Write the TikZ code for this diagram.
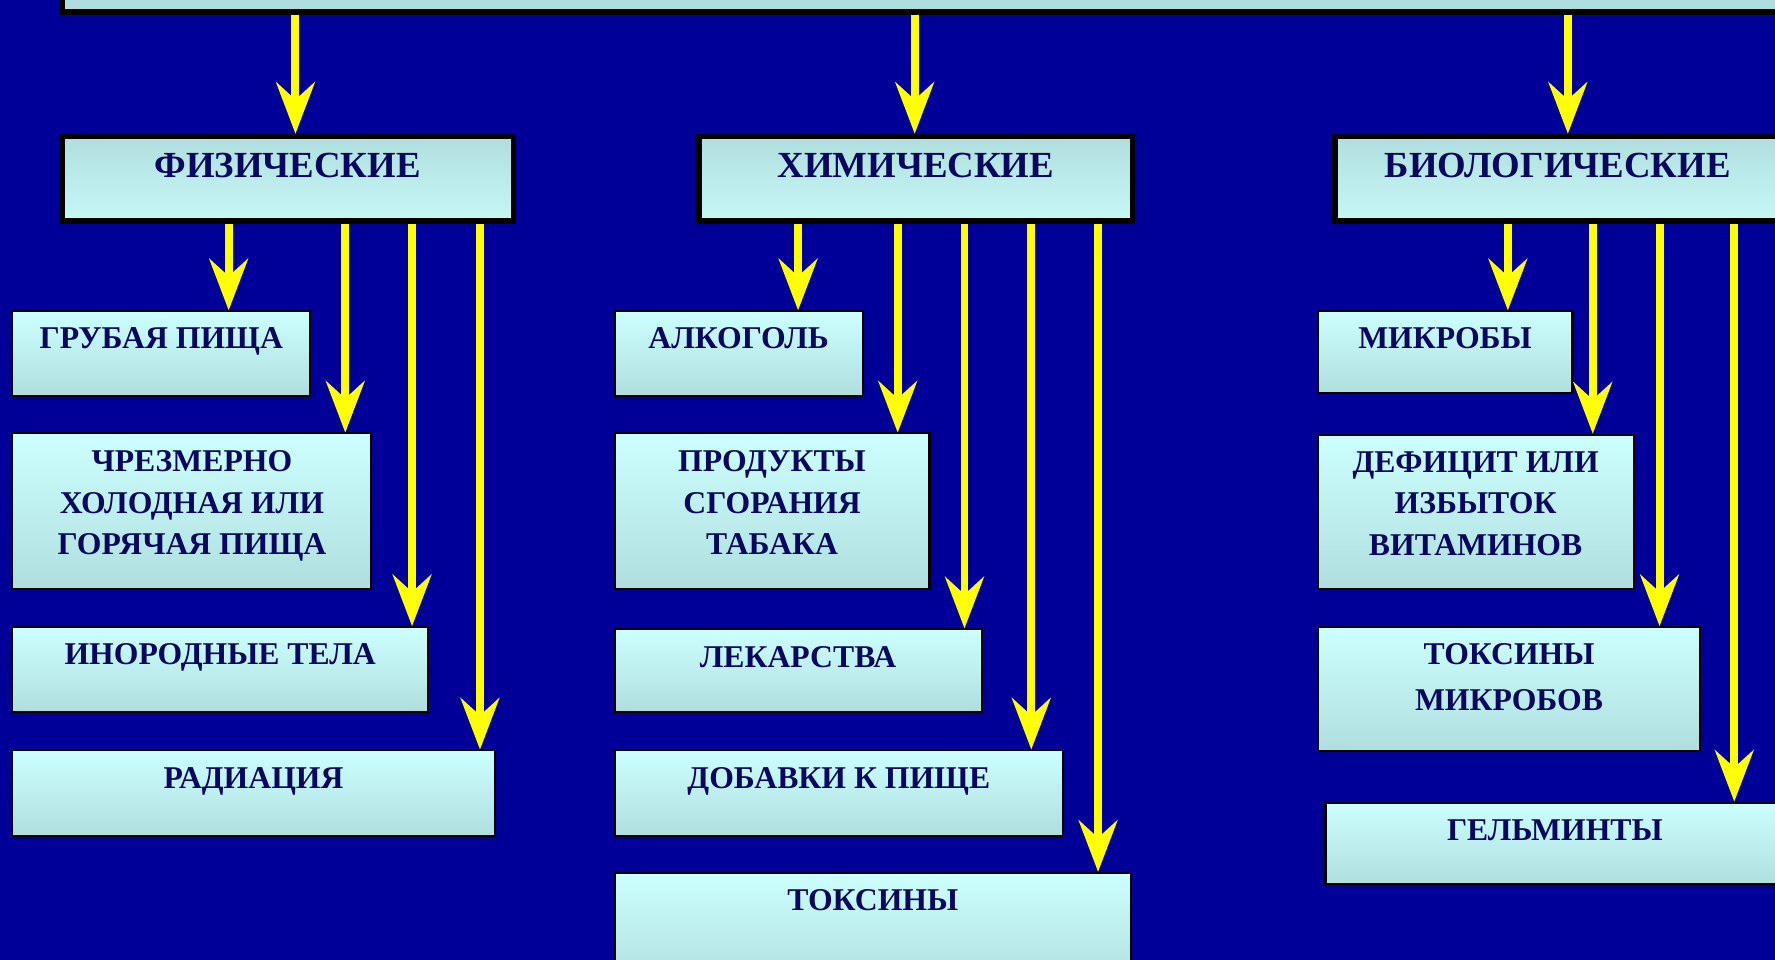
\documentclass[tikz,border=0pt]{standalone}
\usepackage{fontspec}
\setmainfont{Liberation Serif}
\usetikzlibrary{arrows.meta}
\definecolor{bg}{HTML}{000099}
\definecolor{ylw}{HTML}{FFFF00}
\definecolor{txt}{HTML}{080860}
\definecolor{hdrtop}{HTML}{B0DEDE}
\definecolor{hdrbot}{HTML}{C6F8F6}
\definecolor{subtop}{HTML}{CCFFFF}
\definecolor{subbot}{HTML}{B0DEDE}
\tikzset{
 hdrbox/.style={draw=black, line width=5pt, top color=hdrtop, bottom color=hdrbot, inner sep=0pt, anchor=north west, rectangle},
 subbox/.style={draw=black, line width=1.8pt, top color=subtop, bottom color=subbot, inner sep=0pt, anchor=north west, rectangle},
 hdrtxt/.style={font=\bfseries\fontsize{32.5}{40}\selectfont, text=txt, inner sep=0pt, anchor=north, align=center},
 subtxt/.style={font=\bfseries\fontsize{28}{37}\selectfont, text=txt, inner sep=0pt, anchor=north, align=center},
 arr/.style={draw=ylw, line width=7pt, -{Stealth[length=46pt,width=35pt,inset=16pt,line width=0pt]}},
}
\begin{document}
\begin{tikzpicture}[x=1pt,y=-1pt]
\useasboundingbox (0,0) rectangle (1568,848);
\clip (0,0) rectangle (1568,848);
\fill[bg] (0,0) rectangle (1568,848);

% top bar and headers
\node[hdrbox, anchor=south west, minimum width=1595pt, minimum height=75pt, top color=hdrtop, bottom color=hdrtop] (top) at (52,13) {};
\node[hdrbox, minimum width=399pt, minimum height=75pt] (phys) at (52,118) {};
\node[hdrbox, minimum width=383pt, minimum height=75pt] (chem) at (615,118) {};
\node[hdrbox, minimum width=393pt, minimum height=75pt] (bio) at (1177,118) {};
\node[hdrtxt] (physT) at ([yshift=-17pt]phys.north) {ФИЗИЧЕСКИЕ};
\node[hdrtxt] (chemT) at ([yshift=-17pt]chem.north) {ХИМИЧЕСКИЕ};
\node[hdrtxt] (bioT) at ([yshift=-17pt]bio.north) {БИОЛОГИЧЕСКИЕ};

% physical
\node[subbox, minimum width=263.2pt, minimum height=75.2pt] (g1) at (10,274) {};
\node[subbox, minimum width=317.2pt, minimum height=137.2pt] (g2) at (10,382) {};
\node[subbox, minimum width=367.2pt, minimum height=75.2pt] (g3) at (10,553) {};
\node[subbox, minimum width=426.2pt, minimum height=75.2pt] (g4) at (10,662) {};
% chemical
\node[subbox, minimum width=219.2pt, minimum height=75.2pt] (h1) at (542,274) {};
\node[subbox, minimum width=278.2pt, minimum height=137.2pt] (h2) at (542,382) {};
\node[subbox, minimum width=324.2pt, minimum height=73.2pt] (h3) at (542,555) {};
\node[subbox, minimum width=396.2pt, minimum height=75.2pt] (h4) at (542,662) {};
\node[subbox, minimum width=456.2pt, minimum height=100pt] (h5) at (542,770) {};
% biological
\node[subbox, minimum width=225.2pt, minimum height=72.2pt] (b1) at (1163,274) {};
\node[subbox, minimum width=279.2pt, minimum height=136.2pt] (b2) at (1163,383) {};
\node[subbox, minimum width=338.2pt, minimum height=109.2pt] (b3) at (1163,553) {};
\node[subbox, minimum width=405.2pt, minimum height=72.2pt] (b4) at (1170,708) {};

\node[subtxt] (g1T) at ([yshift=-15.5pt]g1.north) {ГРУБАЯ ПИЩА};
\node[subtxt] (g2T) at ([yshift=-15.5pt]g2.north) {ЧРЕЗМЕРНО\\ХОЛОДНАЯ ИЛИ\\ГОРЯЧАЯ ПИЩА};
\node[subtxt] (g3T) at ([yshift=-15.5pt]g3.north) {ИНОРОДНЫЕ ТЕЛА};
\node[subtxt] (g4T) at ([yshift=-15.5pt]g4.north) {РАДИАЦИЯ};
\node[subtxt] (h1T) at ([yshift=-15.5pt]h1.north) {АЛКОГОЛЬ};
\node[subtxt] (h2T) at ([yshift=-15.5pt]h2.north) {ПРОДУКТЫ\\СГОРАНИЯ\\ТАБАКА};
\node[subtxt] (h3T) at ([yshift=-15.5pt]h3.north) {ЛЕКАРСТВА};
\node[subtxt] (h4T) at ([yshift=-15.5pt]h4.north) {ДОБАВКИ К ПИЩЕ};
\node[subtxt] (h5T) at ([yshift=-15.5pt]h5.north) {ТОКСИНЫ};
\node[subtxt] (b1T) at ([yshift=-15.5pt]b1.north) {МИКРОБЫ};
\node[subtxt] (b2T) at ([yshift=-15.5pt]b2.north) {ДЕФИЦИТ ИЛИ\\ИЗБЫТОК\\ВИТАМИНОВ};
\node[subtxt, font=\bfseries\fontsize{28}{40}\selectfont] (b3T) at ([yshift=-15.5pt]b3.north) {ТОКСИНЫ\\МИКРОБОВ};
\node[subtxt] (b4T) at ([yshift=-15.5pt]b4.north) {ГЕЛЬМИНТЫ};

% arrow columns
\coordinate (xa) at (261,0);
\coordinate (xb) at (808,0);
\coordinate (xc) at (1385,0);
\coordinate (p1) at (202,0);
\coordinate (p2) at (305,0);
\coordinate (p3) at (364,0);
\coordinate (p4) at (424,0);
\coordinate (c1) at (705,0);
\coordinate (c2) at (793,0);
\coordinate (c3) at (852,0);
\coordinate (c4) at (911,0);
\coordinate (c5) at (970,0);
\coordinate (q1) at (1332,0);
\coordinate (q2) at (1407,0);
\coordinate (q3) at (1466,0);
\coordinate (q4) at (1532,0);

\draw[arr] (xa |- top.south) -- (xa |- phys.north);
\draw[arr] (xb |- top.south) -- (xb |- chem.north);
\draw[arr] (xc |- top.south) -- (xc |- bio.north);

\draw[arr] (p1 |- phys.south) -- (p1 |- g1.north);
\draw[arr] (p2 |- phys.south) -- (p2 |- g2.north);
\draw[arr] (p3 |- phys.south) -- (p3 |- g3.north);
\draw[arr] (p4 |- phys.south) -- (p4 |- g4.north);

\draw[arr] (c1 |- chem.south) -- (c1 |- h1.north);
\draw[arr] (c2 |- chem.south) -- (c2 |- h2.north);
\draw[arr] (c3 |- chem.south) -- (c3 |- h3.north);
\draw[arr] (c4 |- chem.south) -- (c4 |- h4.north);
\draw[arr] (c5 |- chem.south) -- (c5 |- h5.north);

\draw[arr] (q1 |- bio.south) -- (q1 |- b1.north);
\draw[arr] (q2 |- bio.south) -- (q2 |- b2.north);
\draw[arr] (q3 |- bio.south) -- (q3 |- b3.north);
\draw[arr] (q4 |- bio.south) -- (q4 |- b4.north);
\end{tikzpicture}
\end{document}
